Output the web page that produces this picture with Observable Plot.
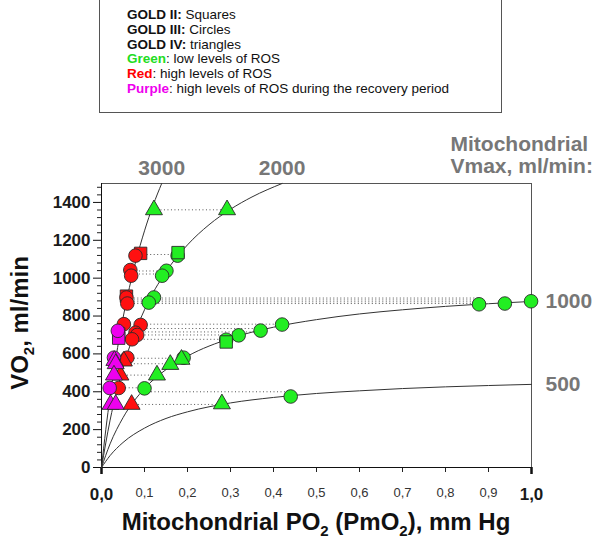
<!DOCTYPE html>
<html><head><meta charset="utf-8">
<script src="https://cdn.jsdelivr.net/npm/d3@7"></script>
<script src="https://cdn.jsdelivr.net/npm/@observablehq/plot@0.6"></script>
<style>
body{margin:0;background:#fff;font-family:"Liberation Sans",Arial,sans-serif;}
#wrap{position:relative;width:600px;height:538px;overflow:hidden;background:#fff;}
#legend{position:absolute;left:99px;top:-3px;width:403px;height:116px;border:1.5px solid #555;box-sizing:border-box;background:#fff;}
#legend div{position:absolute;left:27px;font-size:13.5px;line-height:15px;color:#111;white-space:nowrap;}
#chart{position:absolute;left:0;top:120px;}
</style></head><body>
<div id="wrap">
  <div id="legend">
    <div style="top:9px"><b>GOLD II:</b> Squares</div>
    <div style="top:24px"><b>GOLD III:</b> Circles</div>
    <div style="top:39px"><b>GOLD IV:</b> triangles</div>
    <div style="top:53px"><b style="color:#22dd22">Green</b>: low levels of ROS</div>
    <div style="top:68px"><b style="color:#ff0000">Red</b>: high levels of ROS</div>
    <div style="top:83px"><b style="color:#ee00ee">Purple</b>: high levels of ROS during the recovery period</div>
  </div>
  <div id="chart"></div>
</div>
<script>
// Mitochondrial Vmax curves (PmO2 in mm Hg, VO2 in ml/min)
const curveLabels = ["3000", "2000", "1000", "500"];
const curve3000P = [0, 0.01, 0.02, 0.04, 0.06, 0.08, 0.10, 0.12, 0.14];
const curve3000V = [0, 200, 375, 667, 900, 1091, 1250, 1385, 1500];
const curve2000P = [0, 0.02, 0.05, 0.10, 0.15, 0.20, 0.25, 0.30, 0.35, 0.42];
const curve2000V = [0, 250, 526, 833, 1034, 1176, 1282, 1364, 1429, 1500];
const curve1000P = [0, 0.02, 0.05, 0.10, 0.15, 0.20, 0.30, 0.40, 0.50, 0.60, 0.70, 0.80, 0.90, 1.00];
const curve1000V = [0, 125, 263, 417, 517, 588, 682, 741, 781, 811, 833, 851, 865, 877];
const curve500P = [0, 0.02, 0.05, 0.10, 0.15, 0.20, 0.30, 0.40, 0.50, 0.60, 0.70, 0.80, 0.90, 1.00];
const curve500V = [0, 63, 132, 208, 259, 294, 341, 370, 391, 405, 417, 426, 433, 439];

// Measured points [PmO2, VO2]
const greenCircles = [[0.177,1119],[0.151,1039],[0.141,1013],[0.122,898],[0.110,871],[0.878,862],[0.938,866],[0.999,878],[0.42,755],[0.37,723],[0.319,698],[0.29,675],[0.191,580],[0.100,418],[0.44,375]];
const greenSquares = [[0.178,1135],[0.29,663]];
const greenTriangles = [[0.122,1361],[0.292,1361],[0.186,571],[0.160,544],[0.129,488],[0.28,336]];
const redCircles = [[0.079,1119],[0.067,1043],[0.069,1013],[0.058,898],[0.060,866],[0.052,757],[0.091,753],[0.079,712],[0.083,700],[0.071,677],[0.060,580],[0.040,420]];
const redSquares = [[0.091,1131],[0.058,905]];
const redTriangles = [[0.052,562],[0.044,488],[0.070,333]];
const purpleCircles = [[0.038,722],[0.029,580],[0.019,420]];
const purpleSquares = [[0.040,705],[0.040,683]];
const purpleTriangles = [[0.030,565],[0.033,548],[0.029,488],[0.021,333],[0.033,333]];

// Dotted connectors: VO2 level, from PmO2, to PmO2
const dottedV    = [1361, 1125, 1038, 1022, 895, 885, 875, 866, 757, 734, 716, 700, 677, 577, 548, 488, 421, 400, 333];
const dottedFrom = [0.122, 0.09, 0.072, 0.072, 0.06, 0.06, 0.06, 0.06, 0.09, 0.09, 0.085, 0.085, 0.075, 0.06, 0.052, 0.044, 0.04, 0.10, 0.07];
const dottedTo   = [0.292, 0.178, 0.15, 0.142, 0.878, 0.878, 0.878, 0.878, 0.42, 0.37, 0.37, 0.32, 0.29, 0.19, 0.16, 0.129, 0.10, 0.44, 0.28];

// Axis ticks
const yTicks = [0, 200, 400, 600, 800, 1000, 1200, 1400];
const yTickLabels = ["0", "200", "400", "600", "800", "1000", "1200", "1400"];
const xTicks = [0, 0.1, 0.2, 0.3, 0.4, 0.5, 0.6, 0.7, 0.8, 0.9, 1.0];
const xTickLabels = ["0,0", "0,1", "0,2", "0,3", "0,4", "0,5", "0,6", "0,7", "0,8", "0,9", "1,0"];

const GREEN = "#22ee22", RED = "#ff1010", PURPLE = "#ee00ee";

const curveSets = [[curve3000P, curve3000V], [curve2000P, curve2000V], [curve1000P, curve1000V], [curve500P, curve500V]];
const curveRows = [];
const curveEnds = [];
curveSets.forEach(([ps, vs], k) => {
  ps.forEach((p, i) => curveRows.push({label: curveLabels[k], P: p, V: vs[i]}));
  curveEnds.push({label: curveLabels[k], P: ps[ps.length - 1], V: vs[vs.length - 1]});
});
const dotRows = dottedV.map((v, i) => ({V: v, from: dottedFrom[i], to: dottedTo[i]}));
const toRows = (arr) => arr.map(([p, v]) => ({P: p, V: v}));

const minorTicks = d3.range(40, 1500, 40).filter(d => d % 200 !== 0);
const xFmt = d => xTickLabels[Math.round(d * 10)];
const yFmt = d => yTickLabels[yTicks.indexOf(d)];

const ptStyle = {x: "P", y: "V", stroke: "#2a2a2a", strokeWidth: 0.9};

const plot = Plot.plot({
  width: 600, height: 418,
  marginTop: 63, marginBottom: 71, marginLeft: 101, marginRight: 69,
  x: {domain: [0, 1]},
  y: {domain: [0, 1500]},
  style: {fontFamily: "Liberation Sans, Arial, sans-serif", background: "white", overflow: "visible"},
  marks: [
    Plot.frame({stroke: "#555"}),
    Plot.axisY({ticks: minorTicks, tickSize: 4, tickFormat: () => "", label: null, stroke: "#222"}),
    Plot.axisY({ticks: yTicks, tickSize: 8, tickPadding: 3, fontSize: 17, fontWeight: "bold", tickFormat: yFmt, label: null, stroke: "#111", fill: "#1a1a1a"}),
    Plot.axisX({ticks: xTicks.slice(1, 10), tickSize: 5, tickPadding: 15, fontSize: 13, tickFormat: xFmt, label: null, stroke: "#222", fill: "#333"}),
    Plot.axisX({ticks: [0, 1], tickSize: 7, tickPadding: 13, fontSize: 17, fontWeight: "bold", strokeWidth: 2.5, tickFormat: xFmt, label: null, stroke: "#111", fill: "#1a1a1a"}),
    Plot.ruleX([0], {stroke: "#111"}),
    Plot.ruleY([0], {stroke: "#111"}),
    Plot.line(curveRows, {x: "P", y: "V", z: "label", curve: "monotone-x", stroke: "#333", strokeWidth: 1}),
    Plot.ruleY(dotRows, {y: "V", x1: "from", x2: "to", stroke: "#555", strokeWidth: 1, strokeDasharray: "1,2.5"}),
    Plot.dot(toRows(greenCircles), {...ptStyle, fill: GREEN, symbol: "circle", r: 6.8}),
    Plot.dot(toRows(greenSquares), {...ptStyle, fill: GREEN, symbol: "square", r: 7}),
    Plot.dot(toRows(greenTriangles), {...ptStyle, fill: GREEN, symbol: "triangle", r: 6.3}),
    Plot.dot(toRows(redSquares), {...ptStyle, fill: RED, symbol: "square", r: 7}),
    Plot.dot(toRows(redCircles), {...ptStyle, fill: RED, symbol: "circle", r: 6.8}),
    Plot.dot(toRows(redTriangles), {...ptStyle, fill: RED, symbol: "triangle", r: 6.3}),
    Plot.dot(toRows(purpleSquares), {...ptStyle, fill: PURPLE, symbol: "square", r: 7}),
    Plot.dot(toRows(purpleCircles), {...ptStyle, fill: PURPLE, symbol: "circle", r: 6.8}),
    Plot.dot(toRows(purpleTriangles), {...ptStyle, fill: PURPLE, symbol: "triangle", r: 6.3}),
    Plot.text(curveEnds.filter(d => d.P < 1), {x: "P", y: "V", text: "label", dy: -15, fontSize: 21, fontWeight: "bold", fill: "#777"}),
    Plot.text(curveEnds.filter(d => d.P >= 1), {x: "P", y: "V", text: "label", dx: 14, textAnchor: "start", fontSize: 21, fontWeight: "bold", fill: "#777"}),
    Plot.text(["Mitochondrial\nVmax, ml/min:"], {frameAnchor: "top-right", textAnchor: "start", lineAnchor: "top", dx: -81, dy: -48, fontSize: 21, fontWeight: "bold", fill: "#777", lineHeight: 1.05})
  ]
});

const svg = d3.select(plot);
const xt = svg.append("text").attr("x", 316).attr("y", 410).attr("text-anchor", "middle")
  .attr("font-size", 24).attr("font-weight", "bold").attr("fill", "#111");
xt.append("tspan").text("Mitochondrial PO");
xt.append("tspan").attr("font-size", 15).attr("dy", 6).text("2");
xt.append("tspan").attr("dy", -6).text(" (PmO");
xt.append("tspan").attr("font-size", 15).attr("dy", 6).text("2");
xt.append("tspan").attr("dy", -6).text("), mm Hg");

const yt = svg.append("text").attr("transform", "translate(28,203) rotate(-90)").attr("text-anchor", "middle")
  .attr("font-size", 24).attr("font-weight", "bold").attr("fill", "#111");
yt.append("tspan").text("VO");
yt.append("tspan").attr("font-size", 15).attr("dy", 6).text("2");
yt.append("tspan").attr("dy", -6).text(", ml/min");

document.getElementById("chart").appendChild(plot);
</script>
</body></html>
